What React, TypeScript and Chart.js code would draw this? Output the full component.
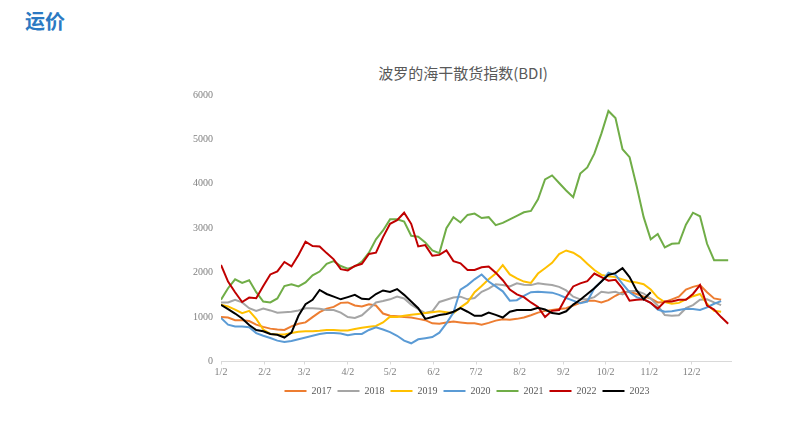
import React, { useEffect, useRef } from "react";
import { Chart, registerables } from "chart.js";
Chart.register(...registerables);

// x positions: days after Jan 2
const days = [
  0, 5, 10, 15, 20, 25, 30, 35, 40, 45, 50, 55,
  60, 65, 70, 75, 80, 85, 90, 95, 100, 105, 110, 115,
  120, 125, 130, 135, 140, 145, 150, 155, 160, 165, 170, 175,
  180, 185, 190, 195, 200, 205, 210, 215, 220, 225, 230, 235,
  240, 245, 250, 255, 260, 265, 270, 275, 280, 285, 290, 295,
  300, 305, 310, 315, 320, 325, 330, 335, 340, 345, 350, 355,
  360,
];
const monthDays = [0, 31, 59, 90, 120, 151, 181, 212, 243, 273, 304, 334];
const monthLabels = ["1/2", "2/2", "3/2", "4/2", "5/2", "6/2", "7/2", "8/2", "9/2", "10/2", "11/2", "12/2"];
const yTickValues = [0, 1000, 2000, 3000, 4000, 5000, 6000];

const years = ["2017", "2018", "2019", "2020", "2021", "2022", "2023"];
const colors = ["#ED7D31", "#A5A5A5", "#FFC000", "#5B9BD5", "#70AD47", "#C00000", "#000000"];

const y2017 = [
  1000, 990, 930, 930, 910, 830, 780, 740, 720, 710, 790, 850,
  880, 1000, 1110, 1190, 1230, 1320, 1330, 1260, 1240, 1290, 1260, 1080,
  1030, 1020, 1000, 990, 960, 930, 860, 850, 880, 900, 880, 860,
  860, 830, 870, 920, 950, 940, 960, 990, 1040, 1100, 1140, 1160,
  1180, 1200, 1260, 1320, 1370, 1370, 1330, 1380, 1480, 1560, 1570, 1520,
  1460, 1420, 1330, 1340, 1400, 1460, 1620, 1680, 1720, 1560, 1420, 1390,
  null,
];
const y2018 = [
  1330, 1330, 1390, 1330, 1200, 1140, 1190, 1150, 1100, 1110, 1120, 1150,
  1200, 1200, 1190, 1160, 1160, 1100, 1000, 980, 1040, 1180, 1330, 1360,
  1400, 1460, 1420, 1280, 1180, 1090, 1130, 1340, 1390, 1440, 1460, 1400,
  1430, 1570, 1640, 1740, 1720, 1690, 1760, 1730, 1720, 1760, 1740, 1720,
  1680, 1600, 1460, 1400, 1400, 1450, 1570, 1550, 1570, 1510, 1590, 1590,
  1530, 1420, 1260, 1045, 1030, 1040, 1200, 1270, 1390, 1400, 1330, 1270,
  null,
];
const y2019 = [
  1280, 1240, 1170, 1090, 1140, 960, 720, 620, 610, 610, 640, 670,
  680, 680, 690, 710, 710, 700, 700, 730, 760, 780, 800, 880,
  1010, 1000, 1030, 1050, 1070, 1090, 1110, 1130, 1110, 1090, 1220, 1330,
  1560, 1700, 1850, 1980, 2170, 1960, 1870, 1800, 1770, 1980, 2100, 2220,
  2420, 2500, 2450, 2350, 2200, 2060, 1950, 1920, 1900, 1850, 1800, 1780,
  1740, 1620, 1440, 1340, 1300, 1320, 1400, 1470, 1520, 1300, 1140, 1120,
  null,
];
const y2020 = [
  980, 830, 790, 790, 770, 640, 580, 530, 470, 440, 460, 500,
  540, 580, 620, 640, 640, 630, 590, 620, 620, 710, 770, 720,
  660, 580, 470, 410, 500, 525, 550, 650, 860, 1100, 1620, 1720,
  1850, 1960, 1800, 1690, 1580, 1370, 1380, 1480, 1560, 1570, 1560, 1550,
  1500, 1430, 1370, 1310, 1350, 1650, 1800, 2000, 1950, 1750, 1560, 1450,
  1400, 1320, 1170, 1120, 1130, 1160, 1190, 1180, 1160, 1220, 1300, 1360,
  null,
];
const y2021 = [
  1390, 1650, 1850, 1770, 1830, 1560, 1350, 1330, 1420, 1700, 1740, 1690,
  1780, 1940, 2025, 2200, 2260, 2150, 2090, 2140, 2250, 2450, 2750, 2950,
  3200, 3200, 3150, 2830, 2810, 2680, 2500, 2440, 3000, 3250, 3130, 3300,
  3330, 3230, 3250, 3070, 3120, 3200, 3280, 3360, 3390, 3650, 4100, 4190,
  4020, 3850, 3700, 4230, 4370, 4680, 5130, 5640, 5480, 4780, 4600, 3950,
  3250, 2750, 2870, 2570, 2650, 2660, 3080, 3350, 3270, 2650, 2280, 2280,
  2280,
];
const y2022 = [
  2175, 1800, 1560, 1340, 1440, 1425, 1700, 1960, 2030, 2240, 2140, 2400,
  2700, 2600, 2590, 2440, 2300, 2080, 2050, 2150, 2200, 2420, 2450, 2800,
  3100, 3180, 3350, 3100, 2590, 2620, 2380, 2400, 2500, 2260, 2210, 2060,
  2060, 2120, 2140, 2000, 1830, 1620, 1510, 1450, 1330, 1230, 1000, 1140,
  1160, 1450, 1690, 1760, 1810, 1980, 1900, 1820, 1840, 1640, 1370, 1390,
  1400, 1320, 1190, 1350, 1350, 1390, 1390, 1520, 1720, 1260, 1170, 1000,
  850,
];
const y2023 = [
  1275, 1180, 1080, 970, 820, 710, 680, 620, 600, 540, 650, 1030,
  1290, 1390, 1610, 1520, 1460, 1400, 1450, 1500, 1410, 1400, 1520, 1600,
  1565, 1630, 1500, 1350, 1200, 960, 1000, 1045, 1070, 1120, 1200, 1120,
  1030, 1030, 1100, 1050, 990, 1120, 1160, 1160, 1160, 1210, 1170, 1090,
  1070, 1130, 1280, 1390, 1520, 1650, 1800, 1950, 1990, 2100, 1900, 1600,
  1400, 1560, null, null, null, null, null, null, null, null, null, null,
  null,
];

const serif = "'Liberation Serif', 'DejaVu Serif', serif";

const legendShift = {
  id: "legendShift",
  afterLayout(chart: any) {
    const lg = chart.legend;
    if (lg) {
      lg.left -= 9;
      lg.right -= 9;
    }
  },
};

export default function App() {
  const ref = useRef<HTMLCanvasElement>(null);
  useEffect(() => {
    const series = [y2017, y2018, y2019, y2020, y2021, y2022, y2023];
    const chart = new Chart(ref.current as HTMLCanvasElement, {
      type: "line",
      data: {
        datasets: series.map((vals, i) => ({
          label: years[i],
          data: days.map((d, j) => ({ x: d, y: vals[j] })),
          borderColor: colors[i],
          backgroundColor: colors[i],
          borderWidth: 2,
          pointRadius: 0,
          tension: 0,
          order: series.length - 1 - i,
        })),
      },
      plugins: [legendShift],
      options: {
        responsive: false,
        animation: false,
        layout: { padding: { top: 95, right: 58, bottom: 34, left: 0 } },
        plugins: {
          title: { display: false },
          tooltip: { enabled: false },
          legend: {
            position: "bottom",
            fullSize: false,
            labels: {
              usePointStyle: true,
              pointStyle: "line",
              pointStyleWidth: 22,
              padding: 6,
              color: "#595959",
              font: { family: serif, size: 10 },
              sort: (a: any, b: any) => a.datasetIndex - b.datasetIndex,
            },
          },
        },
        scales: {
          x: {
            type: "linear",
            min: 0,
            max: 362,
            afterBuildTicks: (s: any) => {
              s.ticks = monthDays.map((v) => ({ value: v }));
            },
            afterFit: (s: any) => {
              s.height = 18.5;
            },
            ticks: {
              autoSkip: false,
              maxRotation: 0,
              padding: 2,
              color: "#7f7f7f",
              font: { family: serif, size: 10 },
              callback: (_v: any, i: number) => monthLabels[i],
            },
            grid: { drawOnChartArea: false, tickLength: 3, color: "#d9d9d9" },
            border: { color: "#d9d9d9" },
          },
          y: {
            min: 0,
            max: 6000,
            afterBuildTicks: (s: any) => {
              s.ticks = yTickValues.map((v) => ({ value: v }));
            },
            afterFit: (s: any) => {
              s.width = 221;
            },
            ticks: {
              padding: 8,
              color: "#7f7f7f",
              font: { family: serif, size: 10 },
              callback: (v: any) => String(v),
            },
            grid: { display: false, drawTicks: false },
            border: { display: false },
          },
        },
      } as any,
    });
    return () => chart.destroy();
  }, []);

  return (
    <div style={{ position: "absolute", left: 0, top: 0, width: 789, height: 440, background: "#ffffff", overflow: "hidden" }}>
      <div
        style={{
          position: "absolute",
          left: 25,
          top: 11,
          fontFamily: "'Noto Sans CJK SC', sans-serif",
          fontWeight: 700,
          fontSize: 20,
          lineHeight: "20px",
          color: "#2B79C2",
          whiteSpace: "nowrap",
        }}
      >
        运价
      </div>
      <div
        style={{
          position: "absolute",
          left: 463,
          top: 65,
          transform: "translateX(-50%)",
          fontFamily: "'Noto Sans CJK SC', sans-serif",
          fontSize: 15,
          lineHeight: "16px",
          color: "#595959",
          whiteSpace: "nowrap",
        }}
      >
        波罗的海干散货指数(BDI)
      </div>
      <canvas ref={ref} width={789} height={440} style={{ position: "absolute", left: 0, top: 0, width: 789, height: 440 }} />
    </div>
  );
}
